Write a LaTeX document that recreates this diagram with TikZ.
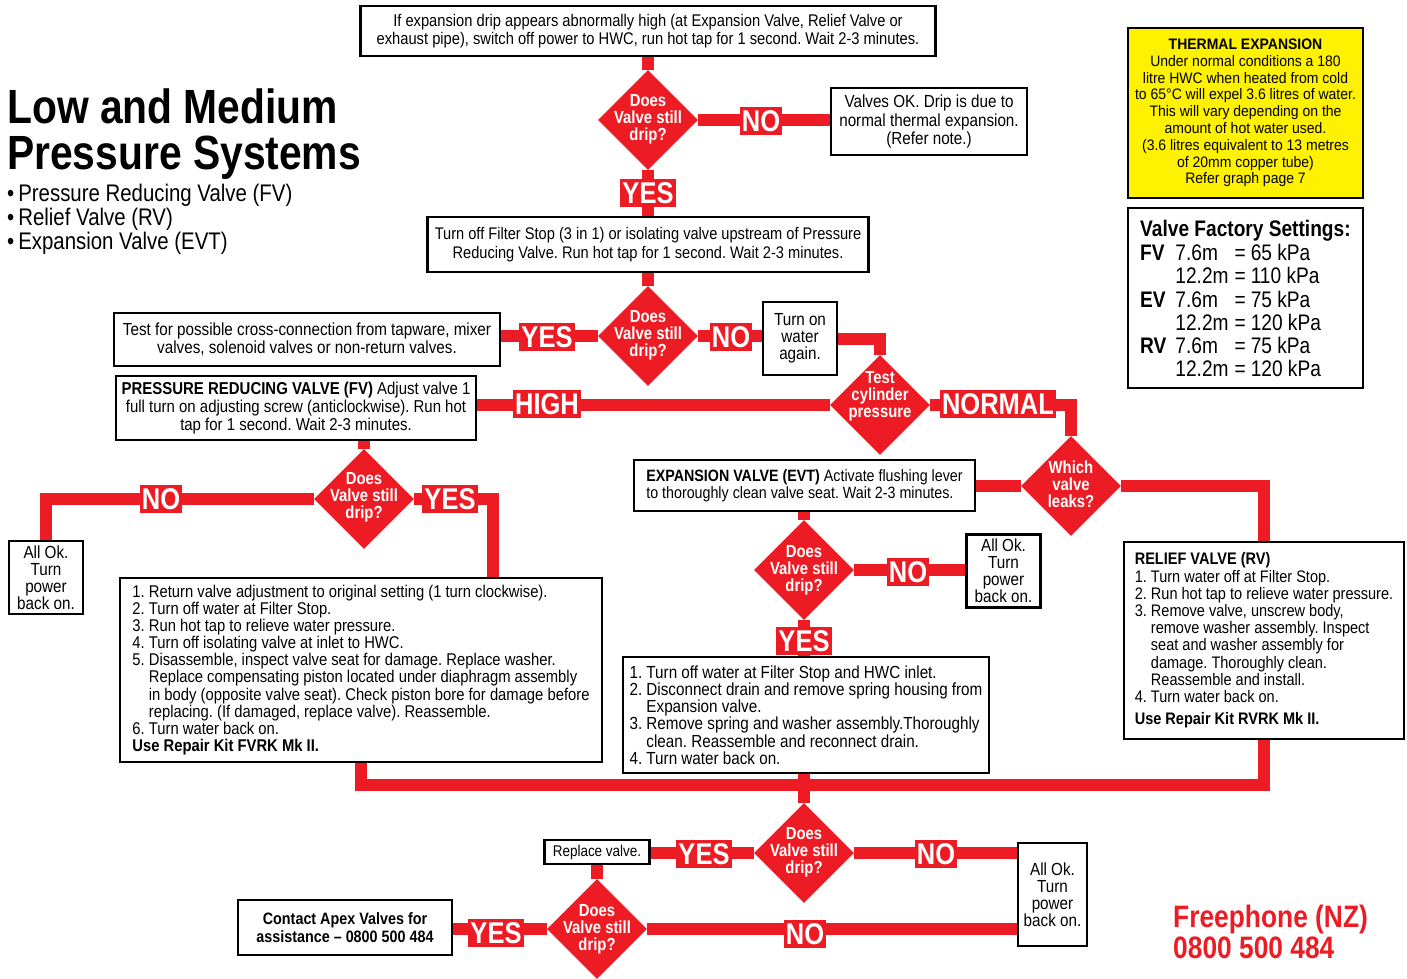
\documentclass[tikz,border=0pt]{standalone}
\usepackage{fontspec}
\setmainfont{Liberation Sans}[FakeStretch=0.87]
\newfontfamily\condf{Liberation Sans}[FakeStretch=0.85]
\newfontfamily\plainf{Liberation Sans}[FakeStretch=0.92]
\usetikzlibrary{shapes.geometric}
\definecolor{apexred}{HTML}{ED1C24}
\definecolor{apexyellow}{HTML}{FFF200}
\pgfdeclarelayer{bg}
\pgfsetlayers{bg,main}
\newcommand{\ind}{\phantom{5. }}
\frenchspacing
\begin{document}
\begin{tikzpicture}[x=1pt,y=-1pt,
  tbox/.style={draw=black, line width=2.5pt, fill=white, inner sep=0pt, align=center,
    font=\fontsize{17.5}{18.3}\selectfont},
  listbox/.style={tbox, align=left, font=\fontsize{17.5}{17.2}\selectfont},
  dia/.style={diamond, fill=apexred, minimum width=100pt, minimum height=100pt, inner sep=0pt},
  dtext/.style={text=white, align=center, inner sep=0pt, font=\condf\bfseries\fontsize{17.5}{17}\selectfont},
  lab/.style={fill=apexred, text=white, inner xsep=2pt, inner ysep=0pt, minimum height=28pt,
    font=\condf\bfseries\fontsize{30}{30}\selectfont},
  conn/.style={draw=apexred, line width=12pt, line join=miter},
  okbox/.style={tbox, minimum width=74pt, minimum height=73pt, font=\fontsize{17.5}{17}\selectfont},
  bullet/.style={anchor=base west, inner sep=0pt, font=\condf\fontsize{24}{24}\selectfont}
]
\useasboundingbox (0,0) rectangle (1407,978);

% ---------- title ----------
\node[anchor=base west, inner sep=0pt, font=\condf\bfseries\fontsize{48}{48}\selectfont] (t1) at (7,123) {Low and Medium};
\node[anchor=base west, inner sep=0pt, font=\condf\bfseries\fontsize{48}{48}\selectfont] (t2) at (7,169) {Pressure Systems};
\node[bullet] (b1) at (7,201) {•\hspace{4pt}Pressure Reducing Valve (FV)};
\node[bullet] (b2) at (7,225) {•\hspace{4pt}Relief Valve (RV)};
\node[bullet] (b3) at (7,249) {•\hspace{4pt}Expansion Valve (EVT)};

% ---------- boxes ----------
\node[tbox, minimum width=575pt, minimum height=50pt, font=\fontsize{16.9}{18.3}\selectfont] (top) at (648,31)
  {If expansion drip appears abnormally high (at Expansion Valve, Relief Valve or\\exhaust pipe), switch off power to HWC, run hot tap for 1 second. Wait 2-3 minutes.};
\node[tbox, minimum width=196pt, minimum height=67pt] (vok) at (929,121.5)
  {Valves OK. Drip is due to\\normal thermal expansion.\\(Refer note.)};
\node[tbox, minimum width=441pt, minimum height=55pt, font=\fontsize{16.8}{18.3}\selectfont] (box2) at (648,244.5)
  {Turn off Filter Stop (3 in 1) or isolating valve upstream of Pressure\\Reducing Valve. Run hot tap for 1 second. Wait 2-3 minutes.};
\node[tbox, minimum width=386pt, minimum height=53pt] (test) at (307,339.5)
  {Test for possible cross-connection from tapware, mixer\\valves, solenoid valves or non-return valves.};
\node[okbox] (tow) at (800,338.5) {Turn on\\water\\again.};
\node[tbox, minimum width=360pt, minimum height=64pt, font=\fontsize{17.2}{17.8}\selectfont] (prv) at (296,408)
  {\textbf{PRESSURE REDUCING VALVE (FV)} Adjust valve 1\\full turn on adjusting screw (anticlockwise). Run hot\\tap for 1 second. Wait 2-3 minutes.};
\node[okbox] (ok1) at (46,577.5) {All Ok.\\Turn\\power\\back on.};
\node[listbox, minimum width=482pt, minimum height=184pt, font=\fontsize{17}{17.1}\selectfont] (fvlist) at (361,670)
  {1. Return valve adjustment to original setting (1 turn clockwise).\\
   2. Turn off water at Filter Stop.\\
   3. Run hot tap to relieve water pressure.\\
   4. Turn off isolating valve at inlet to HWC.\\
   5. Disassemble, inspect valve seat for damage. Replace washer.\\
   \ind Replace compensating piston located under diaphragm assembly\\
   \ind in body (opposite valve seat). Check piston bore for damage before\\
   \ind replacing. (If damaged, replace valve). Reassemble.\\
   6. Turn water back on.\\
   \textbf{Use Repair Kit FVRK Mk II.}};
\coordinate (fvin) at (493,578);
\node[listbox, minimum width=341pt, minimum height=51pt, font=\fontsize{16.4}{17.5}\selectfont] (evt) at (804.5,485.5)
  {\textbf{EXPANSION VALVE (EVT)} Activate flushing lever\\to thoroughly clean valve seat. Wait 2-3 minutes.};
\node[okbox] (ok2) at (1003.5,571) {All Ok.\\Turn\\power\\back on.};
\node[listbox, minimum width=366pt, minimum height=116pt] (evtlist) at (806,715)
  {1. Turn off water at Filter Stop and HWC inlet.\\
   2. Disconnect drain and remove spring housing from\\
   \ind Expansion valve.\\
   3. Remove spring and washer assembly.Thoroughly\\
   \ind clean. Reassemble and reconnect drain.\\
   4. Turn water back on.};
\node[listbox, minimum width=280pt, minimum height=197pt, font=\fontsize{16.7}{17.2}\selectfont] (rv) at (1264,640.5)
  {\textbf{RELIEF VALVE (RV)}\\
   1. Turn water off at Filter Stop.\\
   2. Run hot tap to relieve water pressure.\\
   3. Remove valve, unscrew body,\\
   \ind remove washer assembly. Inspect\\
   \ind seat and washer assembly for\\
   \ind damage. Thoroughly clean.\\
   \ind Reassemble and install.\\
   4. Turn water back on.\\[5pt]
   \textbf{Use Repair Kit RVRK Mk II.}};
\coordinate (bus) at (804,785);
\node[tbox, minimum width=105pt, minimum height=24pt, font=\fontsize{15.5}{16}\selectfont] (rep) at (597,852) {Replace valve.};
\node[okbox, minimum width=69pt, minimum height=103pt] (ok3) at (1052.5,894.5) {All Ok.\\Turn\\power\\back on.};
\node[tbox, minimum width=214pt, minimum height=55pt, font=\bfseries\fontsize{16.5}{18}\selectfont] (contact) at (345,927.5)
  {Contact Apex Valves for\\assistance – 0800 500 484};

% ---------- info boxes ----------
\node[tbox, fill=apexyellow, minimum width=235pt, minimum height=170pt, font=\plainf\fontsize{15.2}{16.8}\selectfont] (thermal) at (1245.5,113)
  {\textbf{THERMAL EXPANSION}\\Under normal conditions a 180\\litre HWC when heated from cold\\to 65°C will expel 3.6 litres of water.\\This will vary depending on the\\amount of hot water used.\\(3.6 litres equivalent to 13 metres\\of 20mm copper tube)\\Refer graph page 7};
\node[tbox, minimum width=235pt, minimum height=180pt] (settings) at (1245.5,298) {};
\node[anchor=north west, inner sep=0pt, align=left, font=\condf\fontsize{22.5}{23}\selectfont] (settxt) at (1140,220)
  {\begin{tabular}{@{}l@{\hspace{9pt}}l@{\hspace{6pt}}l@{\hspace{5pt}}l@{}}
   \multicolumn{4}{@{}l@{}}{\bfseries Valve Factory Settings:}\\[1pt]
   \textbf{FV} & 7.6m & = & 65 kPa\\
               & 12.2m & = & 110 kPa\\
   \textbf{EV} & 7.6m & = & 75 kPa\\
               & 12.2m & = & 120 kPa\\
   \textbf{RV} & 7.6m & = & 75 kPa\\
               & 12.2m & = & 120 kPa
   \end{tabular}};

% ---------- diamonds ----------
\node[dia] (d1) at (648,120) {};
\node[dtext] (d1t) at ([yshift=1pt]d1) {Does\\Valve still\\drip?};
\node[dia] (d2) at (648,336) {};
\node[dtext] (d2t) at ([yshift=1pt]d2) {Does\\Valve still\\drip?};
\node[dia] (dtc) at (880,405) {};
\node[dtext] (dtct) at ([yshift=9pt]dtc) {Test\\cylinder\\pressure};
\node[dia] (d3) at (364,499) {};
\node[dtext] (d3t) at ([yshift=2pt]d3) {Does\\Valve still\\drip?};
\node[dia] (dwv) at (1071,486) {};
\node[dtext] (dwvt) at ([yshift=2pt]dwv) {Which\\valve\\leaks?};
\node[dia] (d4) at (804,570) {};
\node[dtext] (d4t) at (d4) {Does\\Valve still\\drip?};
\node[dia] (d5) at (804,853) {};
\node[dtext] (d5t) at ([yshift=1pt]d5) {Does\\Valve still\\drip?};
\node[dia] (d6) at (597,929) {};
\node[dtext] (d6t) at (d6) {Does\\Valve still\\drip?};

% ---------- connectors ----------
\begin{pgfonlayer}{bg}
\draw[conn] (top.south) -- (d1.north);
\draw[conn] (d1.east) -- (vok.west |- d1.east);
\draw[conn] (d1.south) -- (box2.north);
\draw[conn] (box2.south) -- (d2.north);
\draw[conn] (d2.west) -- (test.east |- d2.west);
\draw[conn] (d2.east) -- (tow.west |- d2.east);
\draw[conn] (tow.east) -| (dtc.north);
\draw[conn] (prv.east |- dtc.west) -- (dtc.west);
\draw[conn] (dtc.east) -| (dwv.north);
\draw[conn] (d3.north |- prv.south) -- (d3.north);
\draw[conn] (d3.west) -| (ok1.north);
\draw[conn] (d3.east) -| (fvin);
\draw[conn] (dwv.west) -- (evt.east |- dwv.west);
\draw[conn] (dwv.east) -| (rv.north);
\draw[conn] (evt.south -| d4.north) -- (d4.north);
\draw[conn] (d4.east) -- (ok2.west |- d4.east);
\draw[conn] (d4.south) -- (evtlist.north -| d4.south);
\draw[conn] (fvlist.south) |- (bus) -| (rv.south);
\draw[conn] (evtlist.south -| bus) -- (bus) -- (d5.north);
\draw[conn] (d5.west) -- (rep.east |- d5.west);
\draw[conn] (d5.east) -- (ok3.west |- d5.east);
\draw[conn] (rep.south) -- (d6.north);
\draw[conn] (d6.west) -- (contact.east |- d6.west);
\draw[conn] (d6.east) -- (ok3.west |- d6.east);
\end{pgfonlayer}

% ---------- labels ----------
\node[lab] (l1n) at (761,121) {NO};
\node[lab] (l1y) at (648,193) {YES};
\node[lab] (l2y) at (547,337) {YES};
\node[lab] (l2n) at (731,337) {NO};
\node[lab] (lhigh) at (547,404) {HIGH};
\node[lab] (lnorm) at (998,404) {NORMAL};
\node[lab] (l3n) at (161,499) {NO};
\node[lab] (l3y) at (450,499) {YES};
\node[lab] (l4n) at (908,572) {NO};
\node[lab] (l4y) at (804,641) {YES};
\node[lab] (l5y) at (704,854) {YES};
\node[lab] (l5n) at (936,854) {NO};
\node[lab] (l6y) at (496,933) {YES};
\node[lab] (l6n) at (805,934) {NO};

% ---------- freephone ----------
\node[anchor=base west, inner sep=0pt, text=apexred, font=\condf\bfseries\fontsize{31}{31}\selectfont] (fp1) at (1173,927) {Freephone (NZ)};
\node[anchor=base west, inner sep=0pt, text=apexred, font=\condf\bfseries\fontsize{31}{31}\selectfont] (fp2) at (1173,958) {0800 500 484};
\end{tikzpicture}
\end{document}
